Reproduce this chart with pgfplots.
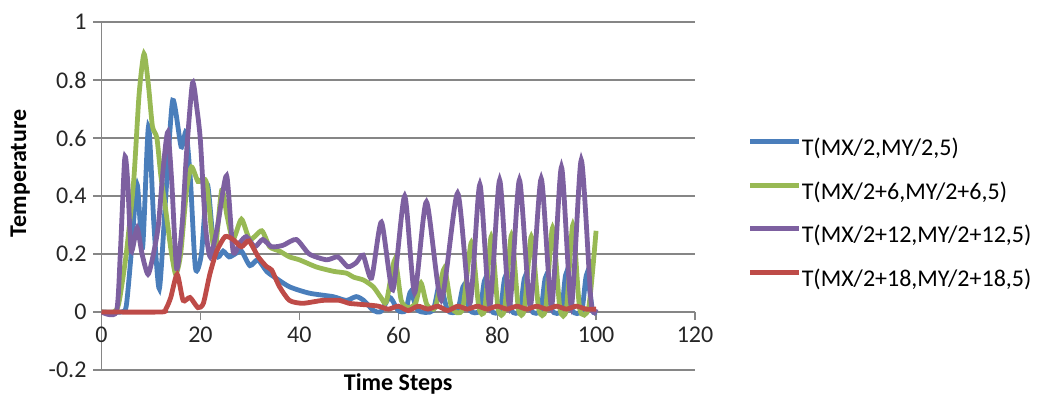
\documentclass[border=0pt]{standalone}
\usepackage{fontspec}
\setmainfont{Carlito}
\usepackage{pgfplots}
\pgfplotsset{compat=1.18}
\definecolor{cblue}{HTML}{4A7EBB}
\definecolor{cgreen}{HTML}{98B954}
\definecolor{cpurple}{HTML}{7D60A0}
\definecolor{cred}{HTML}{BE4B48}
\definecolor{cgrid}{HTML}{868686}
\begin{document}
\begin{tikzpicture}
\useasboundingbox (-50.75bp,-15.5bp) rectangle (470.75bp,185bp);
\begin{axis}[
  scale only axis, width=296.75bp, height=174bp,
  xmin=0, xmax=120, ymin=-0.2, ymax=1,
  axis x line*=middle, axis y line*=left,
  hide obscured x ticks=false, hide obscured y ticks=false,
  xtick={0,20,40,60,80,100,120}, xticklabels={0,20,40,60,80,100,120},
  ytick={-0.2,0,0.2,0.4,0.6,0.8,1}, yticklabels={-0.2,0,0.2,0.4,0.6,0.8,1},
  ymajorgrids, grid style={cgrid, line width=0.6bp},
  axis line style={cgrid, line width=0.6bp},
  tick style={cgrid, line width=0.6bp},
  tick align=outside, major tick length=4bp,
  ticklabel style={font=\fontsize{12bp}{14bp}\selectfont, text=black!85},
  xlabel={Time Steps}, ylabel={Temperature},
  every axis x label/.style={at={(axis description cs:0.5,0)}, anchor=center, yshift=-7bp, font=\fontsize{12bp}{14bp}\selectfont\bfseries},
  every axis y label/.style={at={(axis description cs:-0.137,0.565)}, rotate=90, anchor=center, font=\fontsize{12bp}{14bp}\selectfont\bfseries},
  legend style={at={(axis description cs:1,0.445)}, anchor=west, xshift=26.5bp, draw=none, fill=none,
    inner sep=0pt, outer sep=0pt, row sep=9.75bp, font=\fontsize{12bp}{14bp}\selectfont,
    nodes={inner sep=0pt, text height=9bp, text depth=3bp}},
  legend cell align=left,
  legend image code/.code={\draw[#1, line width=2.4bp] (0bp,4bp) -- (24.5bp,4bp);},
  every axis plot/.append style={line width=2.4bp, smooth, tension=0.4},
]
\addplot[cblue] coordinates {
(0,0) (4,0) (5,0.02) (6,0.2) (7.2,0.44) (8.3,0.22) (9.5,0.64) (10.6,0.3) (11.7,0.08)
(13,0.4) (14.4,0.73) (16.1,0.57) (17.1,0.62) (18,0.45) (19,0.15) (20.2,0.2) (21.4,0.44)
(22.6,0.24) (23.6,0.19) (24.6,0.21) (25.8,0.19) (27,0.2) (28.3,0.21) (30,0.16) (31.6,0.18)
(33.4,0.14) (35,0.12) (38,0.087) (42,0.065) (46.8,0.053) (49.5,0.04) (51.5,0.053) (53,0.04)
(55,0.005) (56.5,0.002) (58.3,0.05) (60,0.005) (61.5,0.005) (62.5,0.07) (64,0.005) (67,0.005)
(68.4,0.1) (70,0.005) (72,0.005) (73.2,0.09) (74.5,0.005) (76.5,0.005) (77.5,0.11) (78.8,0.005)
(80.6,0.005) (81.6,0.12) (82.9,0.005) (84.6,0.005) (85.6,0.12) (86.9,0.005) (88.8,0.005) (89.8,0.12)
(91.1,0.005) (93,0.005) (93.9,0.13) (95.2,0.005) (97.1,0.005) (98.1,0.13) (99.3,0.005) (100,0.0)
};
\addlegendentry{T(MX/2,MY/2,5)}
\addplot[cgreen] coordinates {
(0,0) (2.5,0) (3.5,0.03) (5,0.2) (6.5,0.45) (7.6,0.75) (8.6,0.89) (9.5,0.78) (10.3,0.64)
(11.2,0.6) (12,0.47) (13,0.35) (14,0.22) (15,0.13) (16,0.2) (17.2,0.42) (18.2,0.5)
(19.5,0.45) (20.5,0.46) (21.3,0.44) (22.3,0.27) (23,0.21) (24.3,0.42) (25.4,0.33) (26.6,0.25)
(28.3,0.32) (30,0.25) (32.4,0.28) (34,0.225) (36,0.21) (38,0.19) (40,0.18) (43.5,0.155)
(47,0.14) (49.5,0.134) (51,0.12) (53,0.11) (55,0.086) (56.5,0.05) (57.6,0.035) (59.3,0.18)
(60.6,0.04) (62,0.015) (63.5,0.03) (64.6,0.1) (65.8,0.025) (67.5,0.015) (69.3,0.15) (70.8,0.015)
(73,0.01) (74.8,0.24) (76.3,0.015) (77.5,0.01) (78.8,0.26) (80.2,0.01) (81.5,0.01) (82.9,0.265)
(84.3,0.01) (85.5,0.01) (86.9,0.26) (88.4,0.01) (89.8,0.01) (91.2,0.29) (92.7,0.01) (94,0.01)
(95.3,0.30) (96.7,0.01) (98.5,0.015) (100,0.28)
};
\addlegendentry{T(MX/2+6,MY/2+6,5)}
\addplot[cpurple] coordinates {
(0,0) (3,0) (3.8,0.2) (4.7,0.53) (5.3,0.45) (6,0.21) (7.2,0.29) (8.2,0.2) (9.4,0.13)
(10.5,0.2) (11.5,0.3) (12.5,0.5) (13.4,0.62) (14.2,0.45) (15.2,0.15) (16.3,0.3) (17.2,0.55)
(18.4,0.79) (19.3,0.7) (20,0.59) (21,0.3) (22,0.19) (23.5,0.3) (25.3,0.47) (26.6,0.21)
(28,0.24) (29.3,0.26) (31,0.225) (32.6,0.25) (34.4,0.225) (36.7,0.23) (39.4,0.25) (42,0.2)
(45.5,0.18) (47.8,0.19) (49.8,0.156) (51.5,0.17) (52.9,0.196) (54.6,0.117) (56.6,0.31)
(58.9,0.076) (61.3,0.40) (63.3,0.066) (65.7,0.38) (68.7,0.04) (72,0.41) (74.5,0.03)
(76.5,0.44) (78.5,0.02) (80.5,0.455) (82.5,0.02) (84.5,0.455) (86.7,0.02) (88.9,0.46)
(91,0.02) (93,0.50) (95,0.02) (97,0.524) (99,0.03) (100,0.01)
};
\addlegendentry{T(MX/2+12,MY/2+12,5)}
\addplot[cred] coordinates {
(0,0) (12,0) (13,0.01) (14,0.05) (15.3,0.13) (16.5,0.04) (17.9,0.05) (19.5,0.015)
(20.6,0.03) (21.9,0.13) (23.3,0.21) (25,0.26) (26.6,0.25) (28.3,0.225) (29.8,0.245)
(31.7,0.19) (33.4,0.156) (34.4,0.145) (36,0.087) (38,0.04) (40.7,0.03) (44.7,0.04)
(48.2,0.04) (50,0.03) (54,0.024) (56,0.02) (58,0.01) (60,0.02) (62,0.005) (64,0.02)
(66,0.01) (68,0.02) (70,0.005) (72,0.02) (74,0.01) (76,0.02) (78,0.01) (80,0.02)
(82,0.01) (84,0.02) (86,0.01) (88,0.02) (90,0.01) (92,0.02) (94,0.01) (96,0.02)
(98,0.01) (100,0.01)
};
\addlegendentry{T(MX/2+18,MY/2+18,5)}
\end{axis}
\end{tikzpicture}
\end{document}
